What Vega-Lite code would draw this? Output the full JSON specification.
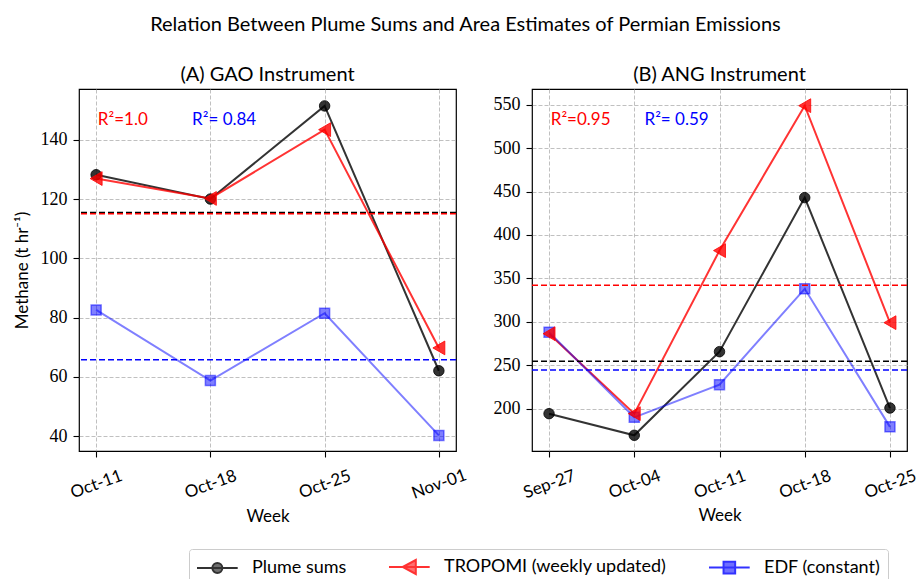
{
  "$schema": "https://vega.github.io/schema/vega-lite/v6.json",
  "autosize": {"type": "none"},
  "padding": {"left": 79, "top": 89, "right": 838, "bottom": 490},
  "background": "white",
  "title": {
    "text": "Relation Between Plume Sums and Area Estimates of Permian Emissions",
    "font": "Lato",
    "fontSize": 20,
    "fontWeight": "normal",
    "color": "black",
    "anchor": "middle",
    "frame": "bounds",
    "baseline": "alphabetic",
    "offset": 13
  },
  "datasets": {
    "gao": [
      {"week": "2019-10-11", "series": "Plume sums", "value": 128.2},
      {"week": "2019-10-18", "series": "Plume sums", "value": 120.0},
      {"week": "2019-10-25", "series": "Plume sums", "value": 151.4},
      {"week": "2019-11-01", "series": "Plume sums", "value": 62.1},
      {"week": "2019-10-11", "series": "TROPOMI (weekly updated)", "value": 126.9},
      {"week": "2019-10-18", "series": "TROPOMI (weekly updated)", "value": 120.2},
      {"week": "2019-10-25", "series": "TROPOMI (weekly updated)", "value": 143.4},
      {"week": "2019-11-01", "series": "TROPOMI (weekly updated)", "value": 69.8},
      {"week": "2019-10-11", "series": "EDF (constant)", "value": 82.6},
      {"week": "2019-10-18", "series": "EDF (constant)", "value": 58.8},
      {"week": "2019-10-25", "series": "EDF (constant)", "value": 81.5},
      {"week": "2019-11-01", "series": "EDF (constant)", "value": 40.3}
    ],
    "ang": [
      {"week": "2019-09-27", "series": "Plume sums", "value": 194.2},
      {"week": "2019-10-04", "series": "Plume sums", "value": 169.3},
      {"week": "2019-10-11", "series": "Plume sums", "value": 265.6},
      {"week": "2019-10-18", "series": "Plume sums", "value": 443.0},
      {"week": "2019-10-25", "series": "Plume sums", "value": 200.7},
      {"week": "2019-09-27", "series": "TROPOMI (weekly updated)", "value": 286.3},
      {"week": "2019-10-04", "series": "TROPOMI (weekly updated)", "value": 194.2},
      {"week": "2019-10-11", "series": "TROPOMI (weekly updated)", "value": 382.0},
      {"week": "2019-10-18", "series": "TROPOMI (weekly updated)", "value": 548.9},
      {"week": "2019-10-25", "series": "TROPOMI (weekly updated)", "value": 299.0},
      {"week": "2019-09-27", "series": "EDF (constant)", "value": 288.0},
      {"week": "2019-10-04", "series": "EDF (constant)", "value": 190.0},
      {"week": "2019-10-11", "series": "EDF (constant)", "value": 227.6},
      {"week": "2019-10-18", "series": "EDF (constant)", "value": 338.0},
      {"week": "2019-10-25", "series": "EDF (constant)", "value": 179.0}
    ]
  },
  "spacing": 76,
  "bounds": "flush",
  "hconcat": [
    {
      "title": {"text": "(A) GAO Instrument", "frame": "group", "anchor": "middle", "baseline": "alphabetic", "offset": -12, "fontSize": 20, "font": "Lato", "fontWeight": "normal", "color": "black"},
      "width": 377,
      "height": 362,
      "data": {"name": "gao"},
      "layer": [
        {
          "encoding": {
            "x": {
              "field": "week",
              "type": "temporal",
              "scale": {
                "type": "utc",
                "domain": [
                  {"year": 2019, "month": 10, "date": 9, "hours": 22, "minutes": 48, "utc": true},
                  {"year": 2019, "month": 11, "date": 2, "hours": 1, "minutes": 12, "utc": true}
                ]
              },
              "axis": {
                "title": "Week",
                "format": "%b-%d",
                "values": [
                  {"year": 2019, "month": 10, "date": 11, "utc": true},
                  {"year": 2019, "month": 10, "date": 18, "utc": true},
                  {"year": 2019, "month": 10, "date": 25, "utc": true},
                  {"year": 2019, "month": 11, "date": 1, "utc": true}
                ]
              }
            },
            "y": {
              "field": "value",
              "type": "quantitative",
              "title": "Methane (t hr⁻¹)",
              "scale": {"domain": [35.05, 157.1], "nice": false, "zero": false},
              "axis": {"values": [40, 60, 80, 100, 120, 140]}
            }
          },
          "layer": [
            {
              "transform": [{"filter": "datum.series === 'Plume sums'"}],
              "mark": {"type": "line", "strokeWidth": 2, "color": "black", "opacity": 0.8}
            },
            {
              "transform": [{"filter": "datum.series === 'TROPOMI (weekly updated)'"}],
              "mark": {"type": "line", "strokeWidth": 2, "color": "red", "opacity": 0.8}
            },
            {
              "transform": [{"filter": "datum.series === 'EDF (constant)'"}],
              "mark": {"type": "line", "strokeWidth": 2, "color": "blue", "opacity": 0.5}
            },
            {
              "transform": [{"filter": "datum.series === 'EDF (constant)'"}],
              "mark": {"type": "point", "shape": "square", "size": 100, "filled": true, "fill": "blue", "stroke": "blue", "strokeWidth": 1.5, "fillOpacity": 0.5, "strokeOpacity": 0.5}
            },
            {
              "transform": [{"filter": "datum.series === 'Plume sums'"}],
              "mark": {"type": "point", "shape": "circle", "size": 110, "filled": true, "fill": "black", "stroke": "black", "strokeWidth": 1, "fillOpacity": 0.8, "strokeOpacity": 0.8}
            },
            {
              "transform": [{"filter": "datum.series === 'TROPOMI (weekly updated)'"}],
              "mark": {"type": "point", "shape": "triangle-left", "size": 190, "filled": true, "fill": "red", "stroke": "red", "strokeWidth": 1, "fillOpacity": 0.8, "strokeOpacity": 0.8}
            },
            {
              "transform": [{"filter": "datum.series === 'Plume sums'"}],
              "mark": {"type": "rule", "strokeDash": [6, 3], "strokeWidth": 1.5, "stroke": "black"},
              "encoding": {"x": null, "y": {"aggregate": "mean", "field": "value", "type": "quantitative", "title": "Methane (t hr⁻¹)"}}
            },
            {
              "transform": [{"filter": "datum.series === 'TROPOMI (weekly updated)'"}],
              "mark": {"type": "rule", "strokeDash": [6, 3], "strokeWidth": 1.5, "stroke": "red"},
              "encoding": {"x": null, "y": {"aggregate": "mean", "field": "value", "type": "quantitative", "title": "Methane (t hr⁻¹)"}}
            },
            {
              "transform": [{"filter": "datum.series === 'EDF (constant)'"}],
              "mark": {"type": "rule", "strokeDash": [6, 3], "strokeWidth": 1.5, "stroke": "blue"},
              "encoding": {"x": null, "y": {"aggregate": "mean", "field": "value", "type": "quantitative", "title": "Methane (t hr⁻¹)"}}
            },
            {
              "mark": {"type": "point", "filled": true, "size": 0},
              "encoding": {
                "fill": {
                  "field": "series",
                  "type": "nominal",
                  "scale": {"domain": ["Plume sums", "TROPOMI (weekly updated)", "EDF (constant)"], "range": ["black", "red", "blue"]},
                  "legend": {
                    "title": null,
                    "orient": "none",
                    "legendX": 110,
                    "legendY": 460,
                    "direction": "horizontal",
                    "symbolSize": 400,
                    "symbolStrokeWidth": 2,
                    "labelOffset": 34,
                    "columnPadding": 38,
                    "padding": 7,
                    "strokeColor": "#cccccc",
                    "fillColor": "white",
                    "cornerRadius": 3,
                    "labelFont": "Lato",
                    "labelFontSize": 18,
                    "labelColor": "black",
                    "labelLimit": 0
                  }
                },
                "stroke": {"field": "series", "type": "nominal", "scale": {"domain": ["Plume sums", "TROPOMI (weekly updated)", "EDF (constant)"], "range": ["black", "red", "blue"]}},
                "shape": {
                  "field": "series",
                  "type": "nominal",
                  "scale": {
                    "domain": ["Plume sums", "TROPOMI (weekly updated)", "EDF (constant)"],
                    "range": [
                      "M-1,0L3.07,0M1.535,0A0.5,0.5,0,1,1,0.535,0A0.5,0.5,0,1,1,1.535,0Z",
                      "M-1,0L3.07,0M0.38,0L1.68,-0.7L1.68,0.7Z",
                      "M-1,0L3.07,0M0.455,-0.58L1.615,-0.58L1.615,0.58L0.455,0.58Z"
                    ]
                  }
                },
                "opacity": {"field": "series", "type": "nominal", "scale": {"domain": ["Plume sums", "TROPOMI (weekly updated)", "EDF (constant)"], "range": [0.8, 0.8, 0.5]}}
              }
            }
          ]
        },
        {
          "data": {"values": [{"note": "R²=1.0"}]},
          "mark": {"type": "text", "align": "left", "baseline": "alphabetic", "font": "Lato", "fontSize": 17, "fill": "red"},
          "encoding": {
            "x": {"datum": {"year": 2019, "month": 10, "date": 11, "hours": 2, "minutes": 31, "utc": true}, "type": "temporal"},
            "y": {"datum": 144.9, "type": "quantitative"},
            "text": {"field": "note", "type": "nominal"}
          }
        },
        {
          "data": {"values": [{"note": "R²= 0.84"}]},
          "mark": {"type": "text", "align": "left", "baseline": "alphabetic", "font": "Lato", "fontSize": 17, "fill": "blue"},
          "encoding": {
            "x": {"datum": {"year": 2019, "month": 10, "date": 16, "hours": 21, "minutes": 7, "utc": true}, "type": "temporal"},
            "y": {"datum": 144.9, "type": "quantitative"},
            "text": {"field": "note", "type": "nominal"}
          }
        }
      ]
    },
    {
      "title": {"text": "(B) ANG Instrument", "frame": "group", "anchor": "middle", "baseline": "alphabetic", "offset": -12, "fontSize": 20, "font": "Lato", "fontWeight": "normal", "color": "black"},
      "width": 375,
      "height": 362,
      "data": {"name": "ang"},
      "layer": [
        {
          "encoding": {
            "x": {
              "field": "week",
              "type": "temporal",
              "scale": {
                "type": "utc",
                "domain": [
                  {"year": 2019, "month": 9, "date": 25, "hours": 14, "minutes": 24, "utc": true},
                  {"year": 2019, "month": 10, "date": 26, "hours": 9, "minutes": 36, "utc": true}
                ]
              },
              "axis": {
                "title": "Week",
                "format": "%b-%d",
                "values": [
                  {"year": 2019, "month": 9, "date": 27, "utc": true},
                  {"year": 2019, "month": 10, "date": 4, "utc": true},
                  {"year": 2019, "month": 10, "date": 11, "utc": true},
                  {"year": 2019, "month": 10, "date": 18, "utc": true},
                  {"year": 2019, "month": 10, "date": 25, "utc": true}
                ]
              }
            },
            "y": {
              "field": "value",
              "type": "quantitative",
              "title": null,
              "scale": {"domain": [151.2, 568.1], "nice": false, "zero": false},
              "axis": {"values": [200, 250, 300, 350, 400, 450, 500, 550]}
            }
          },
          "layer": [
            {
              "transform": [{"filter": "datum.series === 'Plume sums'"}],
              "mark": {"type": "line", "strokeWidth": 2, "color": "black", "opacity": 0.8}
            },
            {
              "transform": [{"filter": "datum.series === 'TROPOMI (weekly updated)'"}],
              "mark": {"type": "line", "strokeWidth": 2, "color": "red", "opacity": 0.8}
            },
            {
              "transform": [{"filter": "datum.series === 'EDF (constant)'"}],
              "mark": {"type": "line", "strokeWidth": 2, "color": "blue", "opacity": 0.5}
            },
            {
              "transform": [{"filter": "datum.series === 'EDF (constant)'"}],
              "mark": {"type": "point", "shape": "square", "size": 100, "filled": true, "fill": "blue", "stroke": "blue", "strokeWidth": 1.5, "fillOpacity": 0.5, "strokeOpacity": 0.5}
            },
            {
              "transform": [{"filter": "datum.series === 'Plume sums'"}],
              "mark": {"type": "point", "shape": "circle", "size": 110, "filled": true, "fill": "black", "stroke": "black", "strokeWidth": 1, "fillOpacity": 0.8, "strokeOpacity": 0.8}
            },
            {
              "transform": [{"filter": "datum.series === 'TROPOMI (weekly updated)'"}],
              "mark": {"type": "point", "shape": "triangle-left", "size": 190, "filled": true, "fill": "red", "stroke": "red", "strokeWidth": 1, "fillOpacity": 0.8, "strokeOpacity": 0.8}
            },
            {
              "transform": [{"filter": "datum.series === 'Plume sums'"}],
              "mark": {"type": "rule", "strokeDash": [6, 3], "strokeWidth": 1.5, "stroke": "black"},
              "encoding": {"x": null, "y": {"aggregate": "mean", "field": "value", "type": "quantitative", "title": null}}
            },
            {
              "transform": [{"filter": "datum.series === 'TROPOMI (weekly updated)'"}],
              "mark": {"type": "rule", "strokeDash": [6, 3], "strokeWidth": 1.5, "stroke": "red"},
              "encoding": {"x": null, "y": {"aggregate": "mean", "field": "value", "type": "quantitative", "title": null}}
            },
            {
              "transform": [{"filter": "datum.series === 'EDF (constant)'"}],
              "mark": {"type": "rule", "strokeDash": [6, 3], "strokeWidth": 1.5, "stroke": "blue"},
              "encoding": {"x": null, "y": {"aggregate": "mean", "field": "value", "type": "quantitative", "title": null}}
            }
          ]
        },
        {
          "data": {"values": [{"note": "R²=0.95"}]},
          "mark": {"type": "text", "align": "left", "baseline": "alphabetic", "font": "Lato", "fontSize": 17, "fill": "red"},
          "encoding": {
            "x": {"datum": {"year": 2019, "month": 9, "date": 27, "hours": 3, "minutes": 22, "utc": true}, "type": "temporal"},
            "y": {"datum": 526.4, "type": "quantitative"},
            "text": {"field": "note", "type": "nominal"}
          }
        },
        {
          "data": {"values": [{"note": "R²= 0.59"}]},
          "mark": {"type": "text", "align": "left", "baseline": "alphabetic", "font": "Lato", "fontSize": 17, "fill": "blue"},
          "encoding": {
            "x": {"datum": {"year": 2019, "month": 10, "date": 4, "hours": 20, "minutes": 10, "utc": true}, "type": "temporal"},
            "y": {"datum": 526.4, "type": "quantitative"},
            "text": {"field": "note", "type": "nominal"}
          }
        }
      ]
    }
  ],
  "resolve": {
    "scale": {"x": "independent", "y": "independent"}
  },
  "config": {
    "font": "Lato",
    "view": {"stroke": "black", "strokeWidth": 1.2},
    "axis": {
      "domain": false,
      "ticks": true,
      "tickColor": "black",
      "tickSize": 6,
      "tickWidth": 1.1,
      "grid": true,
      "gridColor": "#b0b0b0",
      "gridDash": [4, 2],
      "gridWidth": 0.8,
      "labelColor": "black",
      "titleColor": "black",
      "titleFont": "Lato",
      "titleFontSize": 17,
      "titleFontWeight": "normal"
    },
    "axisY": {"labelFont": "Liberation Serif", "labelFontSize": 18, "labelPadding": 6, "titlePadding": 9},
    "axisX": {
      "labelFont": "Lato",
      "labelFontSize": 17,
      "labelAngle": -20,
      "labelAlign": "center",
      "labelBaseline": "middle",
      "labelPadding": 27,
      "labelOverlap": false,
      "labelBound": false,
      "labelFlush": false,
      "titlePadding": 7
    }
  }
}
